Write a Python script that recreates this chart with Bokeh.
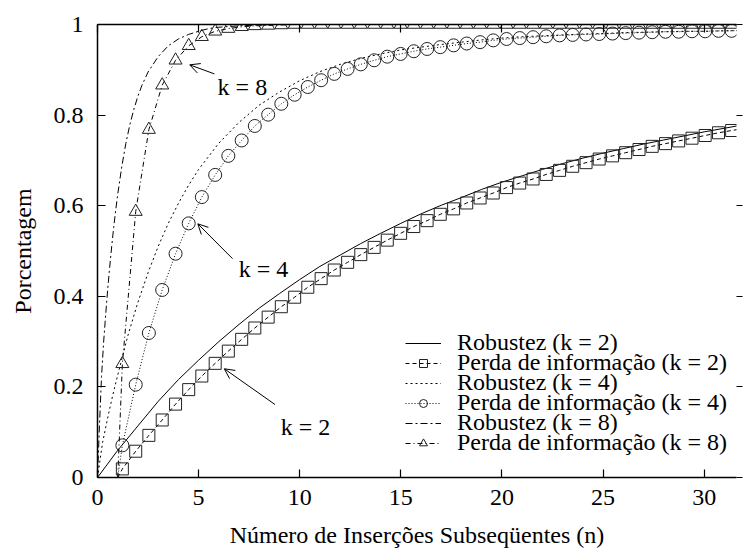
from bokeh.plotting import figure
from bokeh.models import (LinearAxis, FixedTicker, Legend, LegendItem, Arrow,
                          OpenHead, Label, Range1d, CustomLabelingPolicy)
from bokeh.embed import file_html
from bokeh.resources import INLINE

FONT = "Liberation Serif"
FS = "24px"

# ---------------- data ----------------
marker_n = [1.23, 1.89, 2.54, 3.20, 3.86, 4.51, 5.16, 5.82, 6.47, 7.13,
            7.78, 8.44, 9.09, 9.75, 10.40, 11.06, 11.71, 12.37, 13.02, 13.68,
            14.33, 14.99, 15.64, 16.30, 16.95, 17.61, 18.26, 18.92, 19.57, 20.23,
            20.88, 21.54, 22.19, 22.85, 23.50, 24.16, 24.81, 25.47, 26.12, 26.78,
            27.43, 28.09, 28.74, 29.40, 30.05, 30.71, 31.36, 32.02]
loss_start_n = [1.0]
loss_start_value = [0.0]

loss_k2 = [0.019, 0.058, 0.093, 0.127, 0.162, 0.194, 0.224, 0.252, 0.279, 0.305,
           0.330, 0.354, 0.377, 0.398, 0.420, 0.439, 0.458, 0.475, 0.492, 0.508,
           0.524, 0.539, 0.554, 0.567, 0.581, 0.593, 0.606, 0.617, 0.628, 0.640,
           0.650, 0.659, 0.669, 0.678, 0.687, 0.695, 0.703, 0.710, 0.717, 0.724,
           0.731, 0.737, 0.743, 0.749, 0.755, 0.761, 0.766, 0.771]
loss_k4 = [0.071, 0.205, 0.319, 0.414, 0.494, 0.561, 0.619, 0.668, 0.710, 0.744,
           0.776, 0.801, 0.825, 0.845, 0.862, 0.877, 0.891, 0.902, 0.912, 0.921,
           0.929, 0.935, 0.941, 0.946, 0.950, 0.954, 0.958, 0.961, 0.965, 0.968,
           0.970, 0.972, 0.974, 0.976, 0.977, 0.978, 0.979, 0.980, 0.981, 0.982,
           0.983, 0.984, 0.984, 0.985, 0.985, 0.986, 0.986, 0.987]
loss_k8 = [0.251, 0.587, 0.768, 0.866, 0.921, 0.953, 0.973, 0.985, 0.991, 0.995,
           0.997, 0.998, 0.999, 1.0, 1.0, 1.0, 1.0, 1.0, 1.0, 1.0,
           1.0, 1.0, 1.0, 1.0, 1.0, 1.0, 1.0, 1.0, 1.0, 1.0,
           1.0, 1.0, 1.0, 1.0, 1.0, 1.0, 1.0, 1.0, 1.0, 1.0,
           1.0, 1.0, 1.0, 1.0, 1.0, 1.0, 1.0, 1.0]

robust_k2_n = [0, 1, 2, 3, 4, 5, 6, 7, 8, 9, 10, 11, 12, 13, 14, 15, 16,
               17, 18, 19, 20, 21, 22, 23, 24, 25, 26, 27, 28, 29, 30, 31, 32]
robust_k2 = [0.0, 0.060, 0.114, 0.168, 0.216, 0.259, 0.300, 0.338, 0.374, 0.406,
             0.437, 0.466, 0.491, 0.516, 0.539, 0.561, 0.582, 0.601, 0.618, 0.636,
             0.652, 0.666, 0.680, 0.693, 0.705, 0.716, 0.726, 0.736, 0.745, 0.754,
             0.763, 0.771, 0.779]

robust_k4_n = [0, 0.25, 0.5, 0.75, 1, 1.5, 2, 2.5, 3, 3.5, 4, 4.5, 5, 6, 7, 8, 9,
               10, 11, 12, 13, 14, 15, 16, 17, 18, 19, 20, 21, 22, 23, 24, 25,
               26, 27, 28, 29, 30, 31, 32]
robust_k4 = [0.0, 0.077, 0.131, 0.181, 0.226, 0.313, 0.387, 0.452, 0.510, 0.561,
             0.605, 0.645, 0.680, 0.738, 0.784, 0.822, 0.851, 0.876, 0.896, 0.912,
             0.925, 0.935, 0.944, 0.950, 0.956, 0.961, 0.966, 0.970, 0.973, 0.975,
             0.977, 0.979, 0.980, 0.982, 0.983, 0.984, 0.985, 0.985, 0.986, 0.987]

robust_k8_n = [0, 0.1, 0.2, 0.3, 0.4, 0.5, 0.6, 0.7, 0.8, 0.9, 1.0, 1.2, 1.4, 1.6,
               1.8, 2.0, 2.2, 2.5, 3.0, 3.5, 4.0, 4.5, 5.0, 5.5, 6, 7, 8, 9, 10,
               16, 24, 32]
robust_k8 = [0.0, 0.118, 0.223, 0.297, 0.357, 0.413, 0.463, 0.509, 0.552, 0.590,
             0.625, 0.686, 0.737, 0.779, 0.813, 0.842, 0.866, 0.895, 0.929, 0.953,
             0.968, 0.978, 0.985, 0.991, 0.994, 0.997, 0.999, 1.0, 1.0,
             1.0, 1.0, 1.0]

x_ticks = [0, 5, 10, 15, 20, 25, 30]
y_ticks = [0, 0.2, 0.4, 0.6, 0.8, 1]
y_tick_labels = ["0", "0.2", "0.4", "0.6", "0.8", "1"]

series_labels = ["Robustez (k = 2)", "Perda de informação (k = 2)",
                 "Robustez (k = 4)", "Perda de informação (k = 4)",
                 "Robustez (k = 8)", "Perda de informação (k = 8)"]

k_texts = ["k = 8", "k = 4", "k = 2"]
k_text_pos = [(5.94, 0.862), (6.98, 0.461), (9.06, 0.111)]
k_arrows = [((5.78, 0.891), (4.56, 0.911)),
            ((6.68, 0.483), (4.96, 0.560)),
            ((8.78, 0.161), (6.27, 0.240))]

# ---------------- figure ----------------
p = figure(width=746, height=550, output_backend="svg", toolbar_location=None,
           x_range=Range1d(0, 31.6), y_range=Range1d(0, 1),
           x_axis_type=None, y_axis_type=None,
           min_border_left=97, min_border_right=0, min_border_top=24,
           min_border_bottom=73)
p.outline_line_color = None
p.background_fill_color = "white"
p.border_fill_color = "white"

no_labels = CustomLabelingPolicy(code="return new Set()")


def style_axis(ax, ticks, tick_in, tick_out, show_labels, standoff, line=True):
    ax.ticker = FixedTicker(ticks=ticks)
    ax.axis_line_color = "black" if line else None
    ax.axis_line_width = 1.5
    ax.major_tick_line_color = "black"
    ax.major_tick_line_width = 1.2
    ax.major_tick_in = tick_in
    ax.major_tick_out = tick_out
    ax.minor_tick_line_color = None
    ax.major_label_standoff = standoff
    ax.major_label_text_font = FONT
    ax.major_label_text_color = "black"
    if show_labels:
        ax.major_label_text_font_size = FS
    else:
        ax.major_label_text_font_size = "1px"
        ax.major_label_policy = no_labels
    ax.axis_label_text_font = FONT
    ax.axis_label_text_font_size = FS
    ax.axis_label_text_font_style = "normal"
    ax.axis_label_text_color = "black"


bottom = LinearAxis()
style_axis(bottom, x_ticks, 8, 0, True, 12)
bottom.axis_label = "Número de Inserções Subseqüentes (n)"
bottom.axis_label_standoff = 14
p.add_layout(bottom, "below")

left = LinearAxis()
style_axis(left, y_ticks, 8, 0, True, 14)
left.major_label_overrides = {t: s for t, s in zip(y_ticks, y_tick_labels)}
left.axis_label = "Porcentagem"
left.axis_label_standoff = 15
p.add_layout(left, "left")

top = LinearAxis()
style_axis(top, x_ticks, 8, 0, False, 0)
p.add_layout(top, "above")

right = LinearAxis()
style_axis(right, y_ticks, 0, 6, False, 0, line=False)
p.add_layout(right, "right")

# ---------------- series ----------------
r_k2 = p.line(robust_k2_n, robust_k2, line_color="black", line_width=1)
l_k2 = p.line(loss_start_n + marker_n, loss_start_value + loss_k2,
              line_color="black", line_width=1, line_dash="4 3")
m_k2 = p.scatter(marker_n, loss_k2, marker="square", size=12, fill_color=None,
                 line_color="#222222", line_width=1)

r_k4 = p.line(robust_k4_n, robust_k4, line_color="black", line_width=1,
              line_dash="2 3")
l_k4 = p.line(loss_start_n + marker_n, loss_start_value + loss_k4,
              line_color="black", line_width=1, line_dash="1 2")
m_k4 = p.scatter(marker_n, loss_k4, marker="circle", size=13, fill_color=None,
                 line_color="#222222", line_width=1)

r_k8 = p.line(robust_k8_n, robust_k8, line_color="black", line_width=1,
              line_dash="7 3 2 3")
l_k8 = p.line(loss_start_n + marker_n, loss_start_value + loss_k8,
              line_color="black", line_width=1, line_dash="5 3 1 3")
m_k8 = p.scatter(marker_n, loss_k8, marker="triangle", size=13, fill_color=None,
                 line_color="#222222", line_width=1)

item_renderers = [[r_k2], [l_k2, m_k2], [r_k4], [l_k4, m_k4], [r_k8], [l_k8, m_k8]]
for i, (lab, rens) in enumerate(zip(series_labels, item_renderers)):
    lg = Legend(items=[LegendItem(label=lab, renderers=rens)],
                location=(308, 121 - 20 * i), glyph_width=36, glyph_height=20,
                label_height=20, label_standoff=16, padding=0, margin=0,
                border_line_color=None, background_fill_alpha=0,
                label_text_font=FONT, label_text_font_size=FS,
                label_text_color="black")
    p.add_layout(lg)

for txt, (tx, ty), ((xs, ys), (xe, ye)) in zip(k_texts, k_text_pos, k_arrows):
    p.add_layout(Label(x=tx, y=ty, text=txt, text_font=FONT, text_font_size=FS,
                       text_baseline="alphabetic", text_color="black"))
    p.add_layout(Arrow(end=OpenHead(size=10, line_width=1, line_color="black"),
                       x_start=xs, y_start=ys, x_end=xe, y_end=ye,
                       line_width=1, line_color="black"))

open("out.html", "w").write(file_html(p, INLINE))
